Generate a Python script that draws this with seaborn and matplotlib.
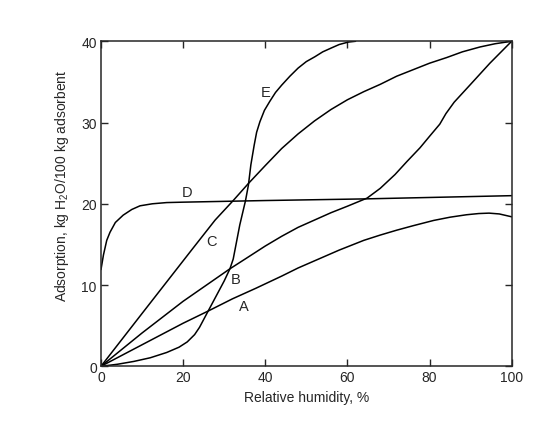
"""Water adsorption isotherms for several adsorbents (curves A-E)."""

import matplotlib
matplotlib.use("Agg")

import matplotlib.pyplot as plt
import pandas as pd
import seaborn as sns


# values (relative humidity %, kg H2O / 100 kg)
a_rh = [0, 10, 20, 26.1, 32, 37.7, 44, 48, 53, 58, 64, 68, 72, 76, 81, 85, 89, 92, 94.5, 97, 100]
a_ads = [0, 2.65, 5.3, 6.8, 8.3, 9.6, 11.1, 12.1, 13.2, 14.3, 15.5, 16.15, 16.75, 17.3,
         17.95, 18.35, 18.65, 18.8, 18.85, 18.75, 18.4]

b_rh = [0, 10, 20, 31.4, 35.1, 40, 44, 48, 52, 56, 60, 64.8, 68, 71.6, 74.5, 77.7,
        80, 82.5, 84, 86, 88, 90, 94.7, 100]
b_ads = [0, 4.1, 8.0, 12.0, 13.2, 14.8, 16.0, 17.1, 18.0, 18.9, 19.7, 20.7, 21.9, 23.6,
         25.2, 26.9, 28.3, 29.8, 31.1, 32.5, 33.6, 34.7, 37.3, 40]

c_rh = [0, 10, 22.2, 27.8, 32.2, 35.9, 40, 44, 48, 52, 56, 60, 64, 68, 72, 76, 80,
        84.2, 88, 92.3, 96, 100]
c_ads = [0, 6.5, 14.4, 18.0, 20.4, 22.5, 24.7, 26.8, 28.6, 30.2, 31.6, 32.8, 33.8, 34.7,
         35.7, 36.5, 37.3, 38.0, 38.7, 39.3, 39.7, 40]

d_rh = [0, 0.6, 1.4, 2.2, 3.5, 5.4, 7.5, 9.5, 12.5, 16, 20, 40, 64, 73, 100]
d_ads = [11.9, 13.7, 15.5, 16.5, 17.7, 18.6, 19.3, 19.75, 20.0, 20.15, 20.2, 20.4, 20.6, 20.7, 21.0]

e_rh = [0, 4, 8, 12, 16, 19, 21, 22.8, 24, 26.1, 28, 30, 31.4, 32.2, 33.8, 35.2, 35.9, 36.5,
        37.3, 37.9, 38.7, 39.8, 41.1, 42.5, 44, 46, 48, 50, 52.1, 54, 56.2, 58, 60.2, 62]
e_ads = [0, 0.25, 0.6, 1.05, 1.7, 2.35, 3.0, 3.9, 4.8, 6.8, 8.6, 10.5, 12.0, 13.2, 17.4, 20.4,
         22.3, 24.8, 27.2, 28.8, 30.1, 31.5, 32.6, 33.7, 34.6, 35.7, 36.7, 37.5, 38.1,
         38.7, 39.2, 39.6, 39.9, 40]

curve_names = ["A", "B", "C", "D", "E"]
label_rh = [34.8, 32.9, 26.8, 20.9, 40.0]
label_ads = [7.4, 10.8, 15.4, 21.4, 33.8]

x_ticks = [0, 20, 40, 60, 80, 100]
y_ticks = [0, 10, 20, 30, 40]


def build_frame() -> pd.DataFrame:
    """Stack all curves into one long table."""
    parts = []
    for name, rh, ads in zip(
        curve_names,
        [a_rh, b_rh, c_rh, d_rh, e_rh],
        [a_ads, b_ads, c_ads, d_ads, e_ads],
    ):
        parts.append(pd.DataFrame({"curve": name, "rh": rh, "ads": ads}))
    return pd.concat(parts, ignore_index=True)


def main() -> None:
    sns.set_style("ticks")
    plt.rcParams["font.family"] = ["Liberation Sans", "DejaVu Sans"]
    plt.rcParams["mathtext.fontset"] = "custom"
    plt.rcParams["mathtext.rm"] = "Liberation Sans"
    plt.rcParams["mathtext.it"] = "Liberation Sans:italic"

    df = build_frame()

    fig = plt.figure(figsize=(5.38, 4.31), dpi=100)
    ax = fig.add_axes([0.1877, 0.1478, 0.7633, 0.7541])

    for name in curve_names:
        sub = df[df["curve"] == name]
        sns.lineplot(
            data=sub, x="rh", y="ads", ax=ax, color="black",
            linewidth=1.1, sort=False, estimator=None,
        )

    for name, tx, ty in zip(curve_names, label_rh, label_ads):
        ax.text(tx, ty, name, fontsize=10.5, ha="center", va="center")

    ax.set_xlim(0, 100)
    ax.set_ylim(0, 40)
    ax.set_xticks(x_ticks)
    ax.set_yticks(y_ticks)
    ax.tick_params(direction="in", length=5, width=1, labelsize=10,
                   top=True, right=True, pad=3)
    for spine in ax.spines.values():
        spine.set_linewidth(1.1)
        spine.set_visible(True)

    ax.set_xlabel("Relative humidity, %", fontsize=10, labelpad=4)
    ax.set_ylabel(r"Adsorption, kg H$_2$O/100 kg adsorbent", fontsize=10)
    ax.yaxis.set_label_coords(-0.073, 0.558)

    fig.savefig("out.png", dpi=100)
    plt.close(fig)


if __name__ == "__main__":
    main()
